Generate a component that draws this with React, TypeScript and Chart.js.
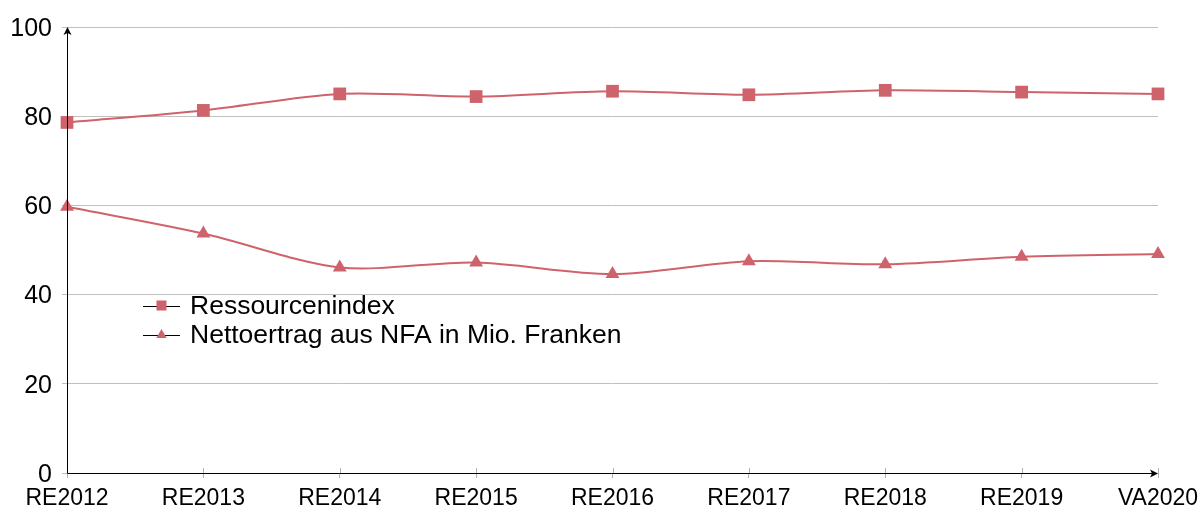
import React, { useEffect, useRef } from "react";
import { Chart, registerables } from "chart.js";

Chart.register(...registerables);

const categories = ["RE2012", "RE2013", "RE2014", "RE2015", "RE2016", "RE2017", "RE2018", "RE2019", "VA2020"];
const ressourcenindex = [78.6, 81.3, 85.0, 84.4, 85.6, 84.8, 85.8, 85.4, 85.0];
const nettoertrag = [59.7, 53.7, 46.1, 47.2, 44.6, 47.5, 46.8, 48.5, 49.1];
const seriesNames = ["Ressourcenindex", "Nettoertrag aus NFA in Mio. Franken"];
const yTicks = [0, 20, 40, 60, 80, 100];

const RED = "#cf636c";
const FONT = "'Liberation Sans', Arial, Helvetica, sans-serif";

const axisPlugin = {
  id: "axisDecor",
  afterDraw(chart: any) {
    const ctx = chart.ctx;
    const { left, right, top, bottom } = chart.chartArea;
    const xs = chart.scales.x;
    ctx.save();
    // upward tick marks on x axis
    ctx.strokeStyle = "#b0b0b0";
    ctx.lineWidth = 1;
    for (let i = 0; i < categories.length; i++) {
      const px = Math.round(xs.getPixelForValue(i)) + 0.5;
      ctx.beginPath();
      ctx.moveTo(px, bottom);
      ctx.lineTo(px, bottom - 5);
      ctx.stroke();
    }
    // axes
    ctx.strokeStyle = "#000";
    ctx.fillStyle = "#000";
    ctx.lineWidth = 1;
    const ax = Math.round(left) + 0.5;
    const ay = Math.round(bottom) + 0.5;
    ctx.beginPath();
    ctx.moveTo(ax, ay);
    ctx.lineTo(ax, top + 2);
    ctx.moveTo(ax, ay);
    ctx.lineTo(right - 2, ay);
    ctx.stroke();
    // arrow heads
    ctx.beginPath();
    ctx.moveTo(ax, top);
    ctx.lineTo(ax - 4, top + 8);
    ctx.lineTo(ax, top + 6);
    ctx.lineTo(ax + 4, top + 8);
    ctx.closePath();
    ctx.fill();
    ctx.beginPath();
    ctx.moveTo(right, ay);
    ctx.lineTo(right - 8, ay - 4);
    ctx.lineTo(right - 6, ay);
    ctx.lineTo(right - 8, ay + 4);
    ctx.closePath();
    ctx.fill();

    // legend
    const lx0 = 143;
    const lx1 = 180;
    const mx = (lx0 + lx1) / 2;
    const rows = [305.5, 335];
    ctx.font = `26.5px ${FONT}`;
    ctx.textBaseline = "middle";
    ctx.textAlign = "left";
    rows.forEach((ry, i) => {
      ctx.strokeStyle = "#000";
      ctx.lineWidth = 1;
      ctx.beginPath();
      ctx.moveTo(lx0, Math.round(ry) + 0.5);
      ctx.lineTo(lx1, Math.round(ry) + 0.5);
      ctx.stroke();
      ctx.fillStyle = RED;
      if (i === 0) {
        ctx.fillRect(mx - 5, ry - 5, 10, 10);
      } else {
        const r = 6;
        ctx.beginPath();
        ctx.moveTo(mx, ry - r);
        ctx.lineTo(mx + r * 0.866, ry + r / 2);
        ctx.lineTo(mx - r * 0.866, ry + r / 2);
        ctx.closePath();
        ctx.fill();
      }
      ctx.fillStyle = "#000";
      ctx.fillText(seriesNames[i], 190, ry + 1);
    });
    ctx.restore();
  },
};

export default function App() {
  const ref = useRef<HTMLCanvasElement | null>(null);
  useEffect(() => {
    if (!ref.current) return;
    const chart = new Chart(ref.current, {
      type: "line",
      data: {
        labels: categories,
        datasets: [
          {
            label: seriesNames[0],
            data: ressourcenindex,
            borderColor: RED,
            backgroundColor: RED,
            borderWidth: 2,
            pointStyle: "rect",
            pointRadius: 9,
            pointBorderWidth: 0,
            tension: 0.3,
          },
          {
            label: seriesNames[1],
            data: nettoertrag,
            borderColor: RED,
            backgroundColor: RED,
            borderWidth: 2,
            pointStyle: "triangle",
            pointRadius: 8,
            pointBorderWidth: 0,
            tension: 0.3,
          },
        ],
      },
      options: {
        responsive: false,
        animation: false,
        layout: { padding: { left: 0, right: 45, top: 27, bottom: 0 } },
        plugins: { legend: { display: false }, tooltip: { enabled: false } },
        scales: {
          x: {
            type: "category",
            offset: false,
            grid: { drawOnChartArea: false, drawTicks: true, tickLength: 5, color: "#b0b0b0" },
            border: { display: false },
            ticks: { color: "#000", font: { family: FONT, size: 23 }, padding: 7, maxRotation: 0, autoSkip: false },
            afterFit: (s: any) => {
              s.height = 35;
              s.paddingLeft = 0;
              s.paddingRight = 0;
            },
          },
          y: {
            min: 0,
            max: 100,
            afterBuildTicks: (s: any) => { s.ticks = yTicks.map((v) => ({ value: v })); },
            grid: { color: "#c0c0c0", tickLength: 5, drawTicks: true },
            border: { display: false },
            ticks: { color: "#000", font: { family: FONT, size: 25 }, padding: 10, labelOffset: 2 },
            afterFit: (s: any) => {
              s.width = 67;
              s.paddingTop = 0;
              s.paddingBottom = 0;
            },
          },
        },
      },
      plugins: [axisPlugin],
    });
    return () => chart.destroy();
  }, []);
  return (
    <div style={{ position: "absolute", left: 0, top: 0, width: 1203, height: 508 }}>
      <canvas ref={ref} width={1203} height={508} style={{ display: "block" }} />
    </div>
  );
}
